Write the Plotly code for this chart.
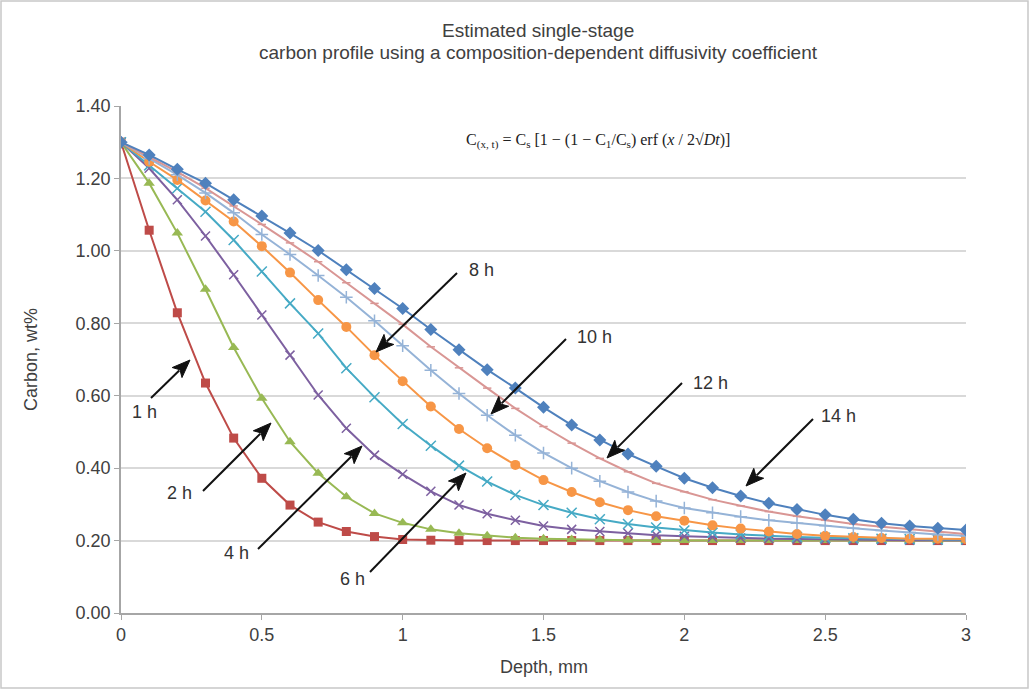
import math
import plotly.graph_objects as go

depth = [round(i * 0.1, 1) for i in range(31)]

c_1h = [1.30, 1.057, 0.829, 0.635, 0.483, 0.372, 0.298, 0.251, 0.225, 0.211, 0.203, 0.201, 0.200, 0.200, 0.200,
        0.200, 0.200, 0.200, 0.200, 0.200, 0.200, 0.200, 0.200, 0.200, 0.200, 0.200, 0.200, 0.200, 0.200, 0.200, 0.200]
c_2h = [1.30, 1.187, 1.049, 0.894, 0.733, 0.593, 0.473, 0.386, 0.321, 0.275, 0.249, 0.231, 0.220, 0.213, 0.208,
        0.205, 0.203, 0.202, 0.201, 0.200, 0.200, 0.200, 0.200, 0.200, 0.200, 0.200, 0.200, 0.200, 0.200, 0.200, 0.200]
c_4h = [1.30, 1.228, 1.141, 1.041, 0.934, 0.823, 0.712, 0.602, 0.510, 0.436, 0.383, 0.336, 0.298, 0.274, 0.256,
        0.240, 0.231, 0.225, 0.220, 0.215, 0.212, 0.209, 0.207, 0.205, 0.204, 0.203, 0.202, 0.202, 0.201, 0.201, 0.201]
c_6h = [1.30, 1.236, 1.173, 1.108, 1.030, 0.943, 0.855, 0.772, 0.676, 0.596, 0.522, 0.462, 0.407, 0.363, 0.326,
        0.298, 0.277, 0.259, 0.246, 0.236, 0.228, 0.222, 0.217, 0.213, 0.210, 0.208, 0.206, 0.205, 0.204, 0.203, 0.203]
c_8h = [1.30, 1.246, 1.196, 1.139, 1.081, 1.013, 0.940, 0.864, 0.790, 0.712, 0.640, 0.570, 0.508, 0.455, 0.409,
        0.367, 0.334, 0.306, 0.284, 0.267, 0.255, 0.242, 0.233, 0.225, 0.218, 0.213, 0.210, 0.207, 0.205, 0.205, 0.204]
c_10h = [1.30, 1.255, 1.210, 1.160, 1.105, 1.045, 0.990, 0.932, 0.872, 0.807, 0.738, 0.670, 0.606, 0.546, 0.491,
         0.442, 0.400, 0.364, 0.334, 0.309, 0.290, 0.277, 0.266, 0.256, 0.248, 0.241, 0.234, 0.228, 0.222, 0.217, 0.213]
c_12h = [1.30, 1.260, 1.218, 1.173, 1.124, 1.073, 1.022, 0.970, 0.912, 0.855, 0.797, 0.735, 0.677, 0.621, 0.565,
         0.515, 0.469, 0.427, 0.390, 0.358, 0.335, 0.313, 0.296, 0.280, 0.267, 0.256, 0.246, 0.238, 0.231, 0.224, 0.218]
c_14h = [1.30, 1.265, 1.225, 1.187, 1.141, 1.096, 1.049, 1.001, 0.948, 0.896, 0.841, 0.783, 0.727, 0.672, 0.621,
         0.568, 0.519, 0.478, 0.439, 0.405, 0.372, 0.346, 0.323, 0.303, 0.286, 0.271, 0.259, 0.248, 0.240, 0.234, 0.229]

series_names = ["1 h", "2 h", "4 h", "6 h", "8 h", "10 h", "12 h", "14 h"]
series_values = [c_1h, c_2h, c_4h, c_6h, c_8h, c_10h, c_12h, c_14h]

x_tick_vals = [0, 0.5, 1, 1.5, 2, 2.5, 3]
x_tick_text = ["0", "0.5", "1", "1.5", "2", "2.5", "3"]
y_tick_vals = [0, 0.2, 0.4, 0.6, 0.8, 1.0, 1.2, 1.4]
y_tick_text = ["0.00", "0.20", "0.40", "0.60", "0.80", "1.00", "1.20", "1.40"]

styles = [
    dict(color="#BE4B48", symbol="square", size=9, mline=0),
    dict(color="#98B954", symbol="triangle-up", size=10, mline=0),
    dict(color="#7D60A0", symbol="x-thin", size=9, mline=1.5),
    dict(color="#46AAC5", symbol="x-thin", size=10, mline=1.5),
    dict(color="#F79646", symbol="circle", size=10, mline=0),
    dict(color="#95B3D7", symbol="cross-thin", size=9, mline=1.5),
    dict(color="#D99694", symbol="line-ew", size=6, mline=1.5),
    dict(color="#4F81BD", symbol="diamond", size=10, mline=0),
]

FONT = "Liberation Sans, Arial, sans-serif"
TXT = "#404040"

fig = go.Figure()
for name, vals, st in zip(series_names, series_values, styles):
    fig.add_trace(go.Scatter(
        x=depth, y=vals, name=name, mode="lines+markers",
        line=dict(color=st["color"], width=2),
        marker=dict(symbol=st["symbol"], size=st["size"], color=st["color"],
                    line=dict(color=st["color"], width=st["mline"])),
        showlegend=False,
    ))

# pixel -> paper/data helpers for annotation placement
W, H = 1029, 689
L, R, T, B = 121, 966, 106, 613
def X(px):
    return (px - L) / (R - L) * 3.0
def Y(py):
    return (B - py) / (B - T) * 1.4
def PX(px):
    return (px - L) / (R - L)
def PY(py):
    return (B - py) / (B - T)

arrows = [  # label, tip(px,py), tail(px,py), label position(px,py)
    ("1 h", (190, 360), (151, 398), (144, 412)),
    ("2 h", (271, 423), (203, 491), (179, 493)),
    ("4 h", (362, 446), (258, 549), (236, 553)),
    ("6 h", (466, 473), (370, 572), (352, 579)),
    ("8 h", (376, 352), (457, 273), (481, 270)),
    ("10 h", (491, 414), (566, 339), (594, 337)),
    ("12 h", (607, 458), (682, 383), (710, 383)),
    ("14 h", (746, 486), (813, 419), (838, 416)),
]

annotations = []
shapes = []
HEAD_LEN, HEAD_HALF = 18, 7
for lab, tip, tail, pos in arrows:
    dx, dy = tip[0] - tail[0], tip[1] - tail[1]
    n = math.hypot(dx, dy)
    ux, uy = dx / n, dy / n
    bx, by = tip[0] - HEAD_LEN * ux, tip[1] - HEAD_LEN * uy
    # shaft
    shapes.append(dict(type="line", xref="x", yref="y",
                       x0=X(tail[0]), y0=Y(tail[1]), x1=X(bx + 3 * ux), y1=Y(by + 3 * uy),
                       line=dict(color="#111111", width=2)))
    # head
    p1 = (tip[0], tip[1])
    p2 = (bx - HEAD_HALF * uy, by + HEAD_HALF * ux)
    p3 = (bx + 4 * ux, by + 4 * uy)
    p4 = (bx + HEAD_HALF * uy, by - HEAD_HALF * ux)
    path = "M {} {} L {} {} L {} {} L {} {} Z".format(
        X(p1[0]), Y(p1[1]), X(p2[0]), Y(p2[1]), X(p3[0]), Y(p3[1]), X(p4[0]), Y(p4[1]))
    shapes.append(dict(type="path", xref="x", yref="y", path=path,
                       fillcolor="#111111", line=dict(color="#111111", width=1)))
    annotations.append(dict(
        x=X(pos[0]), y=Y(pos[1]), xref="x", yref="y", text=lab, showarrow=False,
        font=dict(family=FONT, size=18, color="#333333"),
        xanchor="center", yanchor="middle",
    ))

# formula
annotations.append(dict(
    x=X(598), y=Y(141), xref="x", yref="y", showarrow=False,
    text="C<sub>(x, t)</sub> = C<sub>s</sub> [1 − (1 − C<sub>1</sub>/C<sub>s</sub>) erf (<i>x</i> / 2√<i>Dt</i>)]",
    font=dict(family="Liberation Serif, Times New Roman, serif", size=16, color="#222222"),
    xanchor="center", yanchor="middle",
))

# title (two lines)
annotations.append(dict(
    x=PX(538), y=PY(31), xref="paper", yref="paper", showarrow=False,
    text="Estimated single-stage", font=dict(family=FONT, size=19, color=TXT),
    xanchor="center", yanchor="middle",
))
annotations.append(dict(
    x=PX(538), y=PY(53), xref="paper", yref="paper", showarrow=False,
    text="carbon profile using a composition-dependent diffusivity coefficient",
    font=dict(family=FONT, size=19, color=TXT),
    xanchor="center", yanchor="middle",
))
# axis titles
annotations.append(dict(
    x=PX(31), y=PY(360), xref="paper", yref="paper", showarrow=False,
    text="Carbon, wt%", textangle=-90, font=dict(family=FONT, size=18, color=TXT),
    xanchor="center", yanchor="middle",
))
annotations.append(dict(
    x=PX(544), y=PY(667), xref="paper", yref="paper", showarrow=False,
    text="Depth, mm", font=dict(family=FONT, size=18, color=TXT),
    xanchor="center", yanchor="middle",
))

shapes.append(dict(type="rect", xref="paper", yref="paper",
                   x0=PX(1), x1=PX(1028), y0=PY(688), y1=PY(1),
                   line=dict(color="#c8c8c8", width=1.5), fillcolor="rgba(0,0,0,0)", layer="below"))

fig.update_layout(
    width=W, height=H,
    margin=dict(l=L, r=W - R, t=T, b=H - B),
    paper_bgcolor="white", plot_bgcolor="white",
    font=dict(family=FONT, size=18, color=TXT),
    annotations=annotations,
    shapes=shapes,
)

fig.update_xaxes(
    range=[0, 3], tickvals=x_tick_vals, ticktext=x_tick_text,
    showgrid=False, showline=True, linecolor="#a6a6a6", linewidth=1.5,
    ticks="outside", ticklen=5, tickcolor="#a6a6a6", zeroline=False,
    tickfont=dict(family=FONT, size=18, color=TXT),
)
fig.update_yaxes(
    range=[0, 1.4], tickvals=y_tick_vals, ticktext=y_tick_text,
    showgrid=True, gridcolor="#d9d9d9", gridwidth=1.5,
    showline=True, linecolor="#a6a6a6", linewidth=1.5,
    ticks="outside", ticklen=5, tickcolor="#a6a6a6", zeroline=False,
    tickfont=dict(family=FONT, size=18, color=TXT),
)

fig.write_html("out.html")
